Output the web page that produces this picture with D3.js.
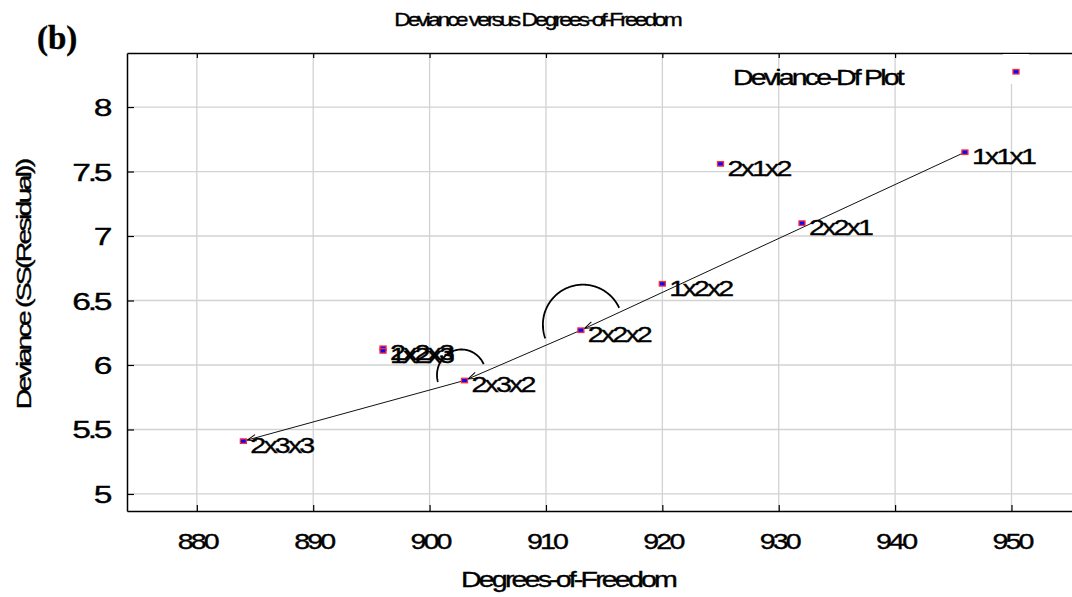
<!DOCTYPE html>
<html>
<head>
<meta charset="utf-8">
<script src="https://cdn.jsdelivr.net/npm/d3@7"></script>
<style>
  html, body { margin: 0; padding: 0; background: #fff; }
  svg text { font-family: "Liberation Sans", Arial, sans-serif; fill: #000; letter-spacing: -0.1em; stroke: #000; stroke-width: 0.35px; }
</style>
</head>
<body>
<script>
// Model labels (factor levels) with their residual degrees of freedom and deviance
const models   = ["1x1x1", "2x1x2", "2x2x1", "1x2x2", "2x2x2", "2x2x3", "1x2x3", "2x3x2", "2x3x3"];
const dfValues = [946, 925, 932, 920, 913, 896, 896, 903, 884];
const devValues = [7.65, 7.56, 7.10, 6.63, 6.27, 6.13, 6.11, 5.88, 5.41];

// Step-down path between nested models (arrows point to the next model)
const pathModels = ["1x1x1", "2x2x2", "2x3x2", "2x3x3"];

// Turning arcs drawn around two of the path models
const arcModels = ["2x2x2", "2x3x2"];

// Axis ticks
const xTicks = [880, 890, 900, 910, 920, 930, 940, 950];
const yTicks = [5, 5.5, 6, 6.5, 7, 7.5, 8];

const titleText = "Deviance versus Degrees-of-Freedom";
const xLabel = "Degrees-of-Freedom";
const yLabel = "Deviance (SS(Residual))";
const legendText = "Deviance-Df Plot";
const panelTag = "(b)";

const W = 1072, H = 597;
const plot = { left: 127, right: 1072, top: 53, bottom: 511 };

const x = d3.scaleLinear().domain([874, 955.2]).range([plot.left, plot.right]);
const y = d3.scaleLinear().domain([4.868, 8.419]).range([plot.bottom, plot.top]);

const points = models.map((m, i) => ({ model: m, df: dfValues[i], dev: devValues[i] }));
const byModel = new Map(points.map(p => [p.model, p]));

const svg = d3.select("body").append("svg").attr("width", W).attr("height", H);

// horizontal stretch of text runs, glyphs wide and tightly packed
function widen(sel, k) {
  sel.each(function () {
    const w = this.getComputedTextLength();
    d3.select(this).attr("textLength", w * k).attr("lengthAdjust", "spacingAndGlyphs");
  });
}
const K = 1.3;

// grid
const grid = svg.append("g").attr("stroke", "#d2d2d2").attr("stroke-width", 1.3);
grid.selectAll("line.v").data(xTicks).join("line")
  .attr("x1", d => x(d)).attr("x2", d => x(d))
  .attr("y1", plot.top).attr("y2", plot.bottom);
grid.selectAll("line.h").data(yTicks).join("line")
  .attr("x1", plot.left).attr("x2", plot.right)
  .attr("y1", d => y(d)).attr("y2", d => y(d));

// axes
const axisLeft = svg.append("g").attr("transform", `translate(${plot.left},0)`)
  .call(d3.axisLeft(y).tickValues(yTicks).tickSizeInner(-7).tickSizeOuter(0).tickPadding(19).tickFormat(d3.format("")));
const axisBottom = svg.append("g").attr("transform", `translate(0,${plot.bottom})`)
  .call(d3.axisBottom(x).tickValues(xTicks).tickSizeInner(-6).tickSizeOuter(0).tickPadding(0).tickFormat(d3.format("d")));
const axisTop = svg.append("g").attr("transform", `translate(0,${plot.top})`)
  .call(d3.axisTop(x).tickValues(xTicks).tickSizeInner(-5).tickSizeOuter(0).tickFormat(""));

[axisLeft, axisBottom, axisTop].forEach(g => {
  g.select(".domain").attr("stroke", "#000").attr("stroke-width", 1.5);
  g.selectAll(".tick line").attr("stroke", "#000").attr("stroke-width", 1.2);
});
axisLeft.selectAll(".tick text")
  .attr("font-size", 24).attr("dy", null).attr("y", 8.5).attr("x", -18)
  .style("font-family", '"Liberation Sans", Arial, sans-serif');
axisBottom.selectAll(".tick text")
  .attr("font-size", 22).attr("dy", null).attr("y", 38)
  .style("font-family", '"Liberation Sans", Arial, sans-serif');
widen(axisLeft.selectAll(".tick text"), 1.4);
widen(axisBottom.selectAll(".tick text"), K);

// legend: white patch behind the symbol, then the label and the symbol
svg.append("rect").attr("x", 1003).attr("y", plot.top + 1).attr("width", 26).attr("height", 30).attr("fill", "#fff");
const legendLabel = svg.append("text").attr("x", 733).attr("y", 85).attr("font-size", 22).text(legendText);
widen(legendLabel, K);
svg.append("rect").attr("x", 1013).attr("y", 69.5).attr("width", 6).attr("height", 4.5)
  .attr("fill", "#0010ff").attr("stroke", "#ff2a3a").attr("stroke-width", 1.3);

// arrowhead
svg.append("defs").append("marker")
  .attr("id", "arrow").attr("viewBox", "-10 -5 12 10")
  .attr("refX", 0).attr("refY", 0)
  .attr("markerWidth", 12).attr("markerHeight", 10)
  .attr("markerUnits", "userSpaceOnUse").attr("orient", "auto")
  .append("path").attr("d", "M-9,-3.2 L0,0 L-9,3.2")
  .attr("fill", "none").attr("stroke", "#000").attr("stroke-width", 1);

// step-down segments, shortened so the arrow tip meets the marker edge
function endPoint(a, b, back) {
  const dx = x(b.df) - x(a.df), dy = y(b.dev) - y(a.dev), L = Math.hypot(dx, dy);
  return [x(b.df) - dx / L * back, y(b.dev) - dy / L * back];
}
const segs = d3.pairs(pathModels.map(m => byModel.get(m)));
svg.append("g").selectAll("line").data(segs).join("line")
  .attr("x1", d => x(d[0].df)).attr("y1", d => y(d[0].dev))
  .attr("x2", d => endPoint(d[0], d[1], 4)[0])
  .attr("y2", d => endPoint(d[0], d[1], 4)[1])
  .attr("stroke", "#111").attr("stroke-width", 1)
  .attr("marker-end", "url(#arrow)");

// turning arcs: elliptical arcs swept counter-clockwise over the top
const arcShapes = [
  { dx: 2, dy: -5.5, rx: 40, ry: 40, a0: -25, a1: -200 },
  { dx: -3, dy: -5.5, rx: 24.5, ry: 25.5, a0: -25, a1: -196 }
];
const arcLine = d3.line();
svg.append("g").selectAll("path").data(arcModels.map((m, i) => ({ p: byModel.get(m), s: arcShapes[i] })))
  .join("path")
  .attr("d", d => {
    const cx = x(d.p.df) + d.s.dx, cy = y(d.p.dev) + d.s.dy;
    const pts = d3.range(0, 121).map(i => {
      const a = (d.s.a0 + (d.s.a1 - d.s.a0) * i / 120) * Math.PI / 180;
      return [cx + d.s.rx * Math.cos(a), cy + d.s.ry * Math.sin(a)];
    });
    return arcLine(pts);
  })
  .attr("fill", "none").attr("stroke", "#000").attr("stroke-width", 1.8);

// point markers
svg.append("g").selectAll("rect").data(points).join("rect")
  .attr("x", d => x(d.df) - 3).attr("y", d => y(d.dev) - 2.2)
  .attr("width", 6).attr("height", 4.5)
  .attr("fill", "#0010ff").attr("stroke", "#ff2a3a").attr("stroke-width", 1.3);

// point labels
const ptLabels = svg.append("g").selectAll("text").data(points).join("text")
  .attr("x", d => x(d.df) + 7).attr("y", d => y(d.dev) + 12)
  .attr("font-size", 22).text(d => d.model);
widen(ptLabels, K);

// titles
const title = svg.append("text").attr("x", 537).attr("y", 26).attr("text-anchor", "middle")
  .attr("font-size", 19).style("letter-spacing", "-0.13em").style("stroke-width", "0.35px").text(titleText);
widen(title, 1.2);

const xl = svg.append("text").attr("x", 568).attr("y", 587).attr("text-anchor", "middle")
  .attr("font-size", 22).text(xLabel);
widen(xl, K);

const yl = svg.append("text").attr("transform", "translate(31,285) rotate(-90)")
  .attr("text-anchor", "middle").attr("font-size", 21).text(yLabel);
widen(yl, 1.36);

svg.append("text").attr("x", 37).attr("y", 49)
  .style("font-family", '"Liberation Serif", "Times New Roman", serif').style("letter-spacing", "0")
  .style("stroke-width", "0.4px")
  .attr("font-weight", "bold").attr("font-size", 33).text(panelTag);
</script>
</body>
</html>
